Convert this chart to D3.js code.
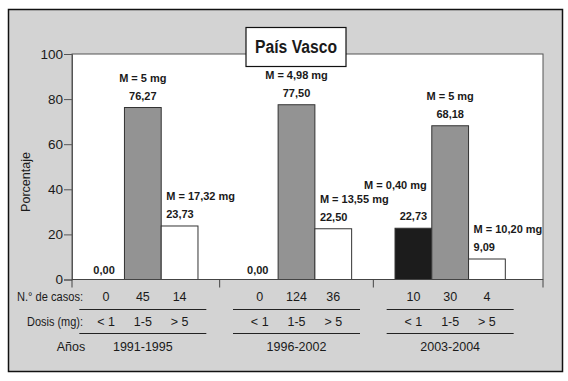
<!DOCTYPE html>
<html>
<head>
    <script src='https://cdn.jsdelivr.net/npm/d3@7'></script>
    <style type='text/css'>
        html, body { margin: 0; padding: 0; background: white; overflow: hidden; }
        text { font-family: 'Liberation Sans', Arial, sans-serif; fill: #1a1a1a; }
        .lbl { font-weight: bold; font-size: 11px; }
        .tbl { font-size: 12.5px; }
    </style>
</head>
<body>
    <script>
        // Data:
        const periods = ['1991-1995', '1996-2002', '2003-2004'];
        const doses = ['< 1', '1-5', '> 5'];
        const pct1991 = [0.00, 76.27, 23.73];
        const pct1996 = [0.00, 77.50, 22.50];
        const pct2003 = [22.73, 68.18, 9.09];
        const cases1991 = [0, 45, 14];
        const cases1996 = [0, 124, 36];
        const cases2003 = [10, 30, 4];
        const median1991 = [null, '5', '17,32'];
        const median1996 = [null, '4,98', '13,55'];
        const median2003 = ['0,40', '5', '10,20'];
        const yTicks = [0, 20, 40, 60, 80, 100];

        const pcts = [pct1991, pct1996, pct2003];
        const cases = [cases1991, cases1996, cases2003];
        const medians = [median1991, median1996, median2003];
        const fmt = v => d3.format('.2f')(v).replace('.', ',');

        const rows = [];
        periods.forEach((p, i) => doses.forEach((d, j) => rows.push({
            period: p, dose: d, j: j, value: pcts[i][j], n: cases[i][j], m: medians[i][j]
        })));

        const width = 568, height = 381;
        const svg = d3.select('body').append('svg').attr('width', width).attr('height', height);

        // frame
        svg.append('rect').attr('x', 8.5).attr('y', 9.5).attr('width', 554).attr('height', 362)
            .attr('fill', '#d3d3d3').attr('stroke', '#111').attr('stroke-width', 1.5);

        const plot = { left: 72, right: 543, top: 54, bottom: 279.5 };
        svg.append('rect').attr('x', plot.left).attr('y', plot.top)
            .attr('width', plot.right - plot.left).attr('height', plot.bottom - plot.top)
            .attr('fill', 'white').attr('stroke', '#555').attr('stroke-width', 1);

        // scales
        const y = d3.scaleLinear().domain([0, 100]).range([plot.bottom, plot.top]);
        const x0 = d3.scaleBand().domain(periods).range([66, 527]);
        const x1 = d3.scaleBand().domain(doses).range([0, x0.bandwidth()]).paddingOuter(0.59);
        const colors = d3.scaleOrdinal(doses, ['#1c1c1c', '#939393', '#ffffff']);
        const bx = d => x0(d.period) + x1(d.dose);
        const cx = d => bx(d) + x1.bandwidth() / 2;

        // y axis
        const yAxis = svg.append('g').attr('transform', `translate(${plot.left},0)`)
            .call(d3.axisLeft(y).tickValues(yTicks).tickSize(8).tickPadding(1));
        yAxis.select('.domain').attr('stroke', '#555');
        yAxis.selectAll('.tick line').attr('stroke', '#555');
        yAxis.selectAll('.tick text').attr('font-size', 13.5).attr('fill', '#1a1a1a')
            .attr('font-family', 'Liberation Sans, Arial, sans-serif');

        svg.append('text').attr('transform', 'translate(30,182) rotate(-90)')
            .attr('text-anchor', 'middle').attr('font-size', 12.5).text('Porcentaje');

        // bars
        svg.append('g').selectAll('rect').data(rows.filter(d => d.value > 0)).join('rect')
            .attr('x', bx).attr('width', x1.bandwidth())
            .attr('y', d => y(d.value)).attr('height', d => y(0) - y(d.value))
            .attr('fill', d => colors(d.dose)).attr('stroke', '#333').attr('stroke-width', 1);

        // bottom axis with group separators
        const seps = [plot.left];
        for (let i = 1; i < periods.length; i++) {
            const a = rows.find(d => d.period === periods[i - 1] && d.j === 2);
            const b = rows.find(d => d.period === periods[i] && d.j === 0);
            seps.push((bx(a) + x1.bandwidth() + bx(b)) / 2);
        }
        seps.push(plot.right);
        svg.append('line').attr('x1', plot.left).attr('x2', plot.right)
            .attr('y1', plot.bottom).attr('y2', plot.bottom).attr('stroke', '#444');
        svg.append('g').selectAll('line').data(seps).join('line')
            .attr('x1', d => d).attr('x2', d => d).attr('y1', plot.bottom).attr('y2', plot.bottom + 8)
            .attr('stroke', '#444');

        // value labels
        const lab = svg.append('g').attr('class', 'lbl');
        const anchorOf = d => d.j === 2 ? 'start' : 'middle';
        const xOf = d => d.j === 2 ? bx(d) + 5 : cx(d);
        lab.selectAll('.v').data(rows).join('text').attr('class', 'v')
            .attr('x', d => d.value > 0 ? xOf(d) : cx(d) - 2)
            .attr('y', d => y(d.value) - (d.value > 0 ? 8 : 6))
            .attr('text-anchor', d => d.value > 0 ? anchorOf(d) : 'middle')
            .text(d => fmt(d.value));
        lab.selectAll('.m').data(rows.filter(d => d.m)).join('text').attr('class', 'm')
            .attr('x', d => d.j === 0 ? bx(d) + x1.bandwidth() - 5 : xOf(d))
            .attr('y', d => y(d.value) - (d.j === 0 ? 39 : 26))
            .attr('text-anchor', d => d.j === 0 ? 'end' : anchorOf(d))
            .text(d => `M = ${d.m} mg`);

        // table below the axis
        const tbl = svg.append('g').attr('class', 'tbl');
        tbl.selectAll('.n').data(rows).join('text').attr('class', 'n')
            .attr('x', cx).attr('y', 301).attr('text-anchor', 'middle').text(d => d.n);
        tbl.selectAll('.d').data(rows).join('text').attr('class', 'd')
            .attr('x', cx).attr('y', 326).attr('text-anchor', 'middle').text(d => d.dose);
        tbl.selectAll('.p').data(periods).join('text').attr('class', 'p')
            .attr('x', d => x0(d) + x0.bandwidth() / 2).attr('y', 351)
            .attr('text-anchor', 'middle').text(d => d);
        [309.5, 333.5].forEach(yy => {
            tbl.append('g').selectAll('line').data(periods).join('line')
                .attr('x1', d => x0(d) + x0.bandwidth() / 2 - 63.5)
                .attr('x2', d => x0(d) + x0.bandwidth() / 2 + 63.5)
                .attr('y1', yy).attr('y2', yy).attr('stroke', '#222').attr('stroke-width', 1);
        });
        tbl.append('text').attr('x', 83).attr('y', 301).attr('text-anchor', 'end')
            .attr('textLength', 66).attr('lengthAdjust', 'spacingAndGlyphs').text('N.° de casos:');
        tbl.append('text').attr('x', 83).attr('y', 326).attr('text-anchor', 'end')
            .attr('textLength', 56).attr('lengthAdjust', 'spacingAndGlyphs').text('Dosis (mg):');
        tbl.append('text').attr('x', 71).attr('y', 351).attr('text-anchor', 'middle').text('Años');

        // title box
        svg.append('rect').attr('x', 246).attr('y', 27.5).attr('width', 100).attr('height', 39)
            .attr('fill', 'white').attr('stroke', '#111').attr('stroke-width', 1.2);
        svg.append('text').attr('x', 296).attr('y', 52.5).attr('text-anchor', 'middle')
            .attr('font-size', 18).attr('font-weight', 'bold')
            .attr('textLength', 82).attr('lengthAdjust', 'spacingAndGlyphs').text('País Vasco');
    </script>
</body>
</html>
